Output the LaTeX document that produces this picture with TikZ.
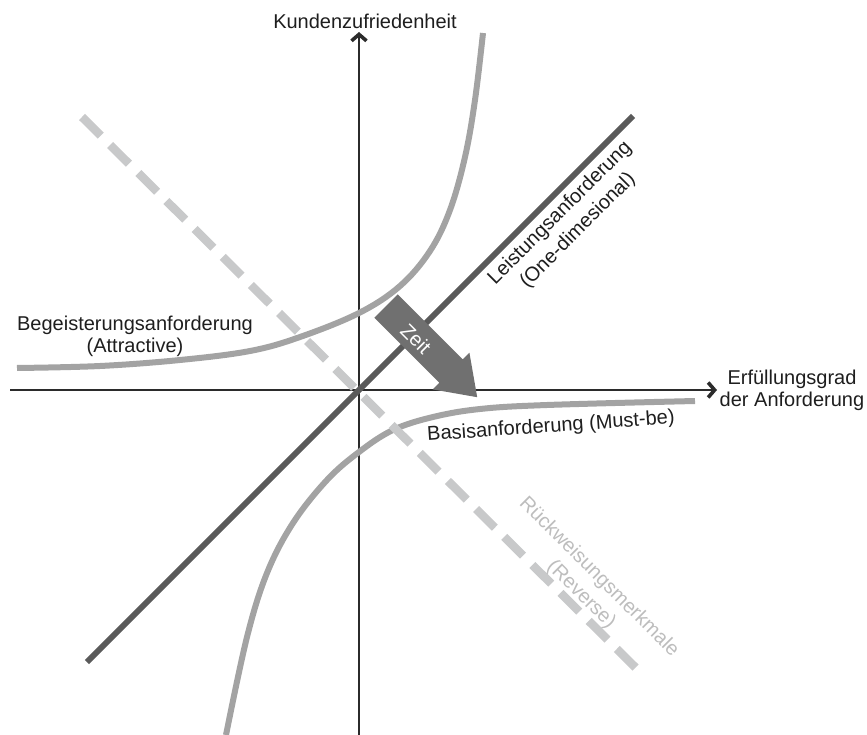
\documentclass[tikz,border=0pt]{standalone}
\usepackage{fontspec}
\setmainfont{Liberation Sans}
\usetikzlibrary{arrows.meta}

\definecolor{axiscol}{HTML}{2B2B2B}
\definecolor{textcol}{HTML}{1E1E1E}
\definecolor{curvecol}{HTML}{A3A3A3}
\definecolor{perfcol}{HTML}{5A5A5A}
\definecolor{revcol}{HTML}{C8C9CA}
\definecolor{revtext}{HTML}{BDBDBD}
\definecolor{zeitcol}{HTML}{707070}

\tikzset{
  axis/.style={draw=axiscol, line width=2pt,
    -{Straight Barb[length=6.5pt,width=15pt,line width=3.6pt]}},
  kanocurve/.style={draw=curvecol, line width=6pt, line cap=butt},
  perfline/.style={draw=perfcol, line width=6pt, line cap=butt},
  revline/.style={draw=revcol, line width=8.5pt, line cap=butt,
    dash pattern=on 26.5pt off 13.2pt},
  zeitshape/.style={fill=zeitcol, draw=none},
  lbl/.style={inner sep=0pt, text=textcol},
  widelines/.style={font=\fontsize{20}{25}\selectfont},
}

\begin{document}
\begin{tikzpicture}[x=1pt, y=-1pt, font=\fontsize{20}{22}\selectfont]
\useasboundingbox (0,0) rectangle (867,735);

% axes
\coordinate (O) at (359,390);
\coordinate (xstart) at (10,390);
\coordinate (xend) at (717,390);
\coordinate (ystart) at (359,735);
\coordinate (yend) at (359,32);
\draw[axis] (xstart) -- (xend);
\draw[axis] (ystart) -- (yend);

% attractive requirement
\draw[kanocurve] plot[smooth, tension=0.6] coordinates {
  (17,368) (100,366) (180,360) (250,351) (300,337) (359,313)
  (400,286) (430,251) (450,210) (465,157) (475,100) (483,33)};

% must-be requirement
\draw[kanocurve] plot[smooth, tension=0.6] coordinates {
  (226,735) (247,637) (267,573) (293,523) (327,480) (359,452)
  (393,430) (433,417) (480,409) (547,405) (695,401)};

% one-dimensional requirement
\coordinate (pstart) at (87,662);
\coordinate (pend) at (633,116);
\draw[perfline] (pstart) -- (pend);

% reverse requirement
\coordinate (rstart) at (82,117);
\coordinate (rend) at (636,668);
\draw[revline] (rstart) -- (rend);

% time arrow
\fill[zeitshape] (397.7,294.3) -- (462.7,359.4) -- (469.4,352.7)
  -- (477.2,397.2) -- (432.7,389.4) -- (439.4,382.7) -- (374.3,317.7) -- cycle;
\node[inner sep=0pt, text=white, rotate=-45] (zeit) at (416,339) {Zeit};

% labels
\node[lbl, anchor=base] (ylab) at (365,29) {Kundenzufriedenheit};
\node[lbl, align=center] (xlab) at (792,390) {Erfüllungsgrad\\der Anforderung};
\node[lbl, align=center] (attr) at (135,336) {Begeisterungsanforderung\\(Attractive)};
\node[lbl, rotate=4] (must) at (551,427) {Basisanforderung (Must-be)};
\node[lbl, widelines, rotate=45, align=center] (perf) at (569,222) {Leistungsanforderung\\(One-dimesional)};
\node[lbl, widelines, rotate=-45, align=center, text=revtext] (rev) at (590,586) {Rückweisungsmerkmale\\(Reverse)};
\end{tikzpicture}
\end{document}
